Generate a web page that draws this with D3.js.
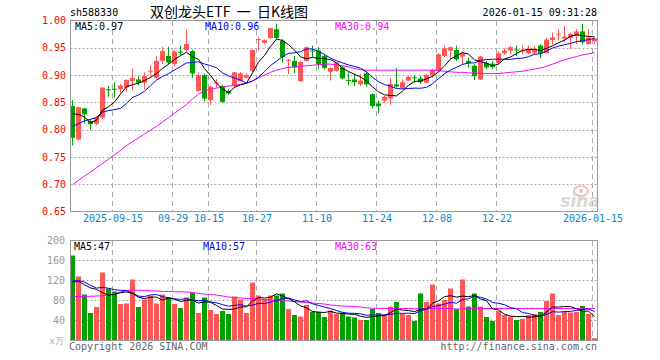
<!DOCTYPE html>
<html>
<head>
<meta charset="utf-8">
<script src="https://cdn.jsdelivr.net/npm/d3@7"></script>
<style>
body { margin: 0; background: #fff; }
text { font-family: "DejaVu Sans Mono", monospace; font-size: 10px; }
</style>
</head>
<body>
<svg width="660" height="360"></svg>
<script>
// trading days shown on the chart
var dates = [
  '2025-09-04','2025-09-05','2025-09-08','2025-09-09','2025-09-10','2025-09-11','2025-09-12','2025-09-15','2025-09-16','2025-09-17',
  '2025-09-18','2025-09-19','2025-09-22','2025-09-23','2025-09-24','2025-09-25','2025-09-26','2025-09-29','2025-09-30','2025-10-09',
  '2025-10-10','2025-10-13','2025-10-14','2025-10-15','2025-10-16','2025-10-17','2025-10-20','2025-10-21','2025-10-22','2025-10-23',
  '2025-10-24','2025-10-27','2025-10-28','2025-10-29','2025-10-30','2025-10-31','2025-11-03','2025-11-04','2025-11-05','2025-11-06',
  '2025-11-07','2025-11-10','2025-11-11','2025-11-12','2025-11-13','2025-11-14','2025-11-17','2025-11-18','2025-11-19','2025-11-20',
  '2025-11-21','2025-11-24','2025-11-25','2025-11-26','2025-11-27','2025-11-28','2025-12-01','2025-12-02','2025-12-03','2025-12-04',
  '2025-12-05','2025-12-08','2025-12-09','2025-12-10','2025-12-11','2025-12-12','2025-12-15','2025-12-16','2025-12-17','2025-12-18',
  '2025-12-19','2025-12-22','2025-12-23','2025-12-24','2025-12-25','2025-12-26','2025-12-29','2025-12-30','2025-12-31','2026-01-05',
  '2026-01-06','2026-01-07','2026-01-08','2026-01-09','2026-01-12','2026-01-13','2026-01-14','2026-01-15'
];

var open = [
  0.843,0.782,0.839,0.816,0.811,0.822,0.874,0.875,0.874,0.877,
  0.889,0.892,0.886,0.907,0.895,0.926,0.935,0.920,0.943,0.946,
  0.944,0.871,0.900,0.854,0.884,0.880,0.871,0.880,0.889,0.895,
  0.908,0.965,0.959,0.968,0.984,0.963,0.926,0.926,0.889,0.926,
  0.945,0.945,0.935,0.906,0.908,0.914,0.891,0.892,0.883,0.903,
  0.865,0.848,0.853,0.857,0.883,0.876,0.890,0.896,0.894,0.886,
  0.900,0.908,0.935,0.945,0.946,0.934,0.926,0.917,0.892,0.922,
  0.921,0.922,0.940,0.945,0.947,0.944,0.940,0.941,0.954,0.940,
  0.964,0.975,0.967,0.968,0.972,0.980,0.957,0.962
];
var high = [
  0.854,0.842,0.840,0.819,0.825,0.878,0.880,0.887,0.883,0.892,
  0.912,0.898,0.905,0.918,0.935,0.952,0.952,0.946,0.954,0.983,
  0.946,0.905,0.903,0.880,0.892,0.883,0.874,0.906,0.905,0.903,
  0.947,0.969,0.965,0.987,0.994,0.966,0.929,0.935,0.926,0.952,
  0.954,0.951,0.937,0.915,0.924,0.917,0.905,0.902,0.902,0.908,
  0.866,0.853,0.862,0.895,0.913,0.892,0.898,0.900,0.898,0.902,
  0.911,0.940,0.954,0.952,0.954,0.943,0.932,0.920,0.935,0.926,
  0.926,0.944,0.949,0.954,0.954,0.954,0.954,0.954,0.957,0.968,
  0.978,0.984,0.990,0.978,0.984,0.994,0.984,0.969
];
var low = [
  0.771,0.780,0.811,0.800,0.808,0.819,0.860,0.859,0.868,0.870,
  0.872,0.881,0.874,0.897,0.892,0.920,0.920,0.917,0.936,0.944,
  0.895,0.870,0.852,0.845,0.877,0.849,0.864,0.877,0.888,0.894,
  0.906,0.945,0.957,0.966,0.966,0.923,0.902,0.903,0.888,0.925,
  0.933,0.911,0.911,0.890,0.906,0.892,0.881,0.880,0.880,0.879,
  0.839,0.830,0.849,0.845,0.877,0.875,0.889,0.886,0.884,0.885,
  0.895,0.906,0.933,0.928,0.926,0.920,0.914,0.891,0.891,0.911,
  0.911,0.920,0.937,0.938,0.935,0.938,0.938,0.937,0.931,0.940,
  0.956,0.963,0.960,0.948,0.957,0.956,0.956,0.957
];
var close = [
  0.785,0.841,0.828,0.810,0.822,0.877,0.872,0.873,0.881,0.891,
  0.895,0.886,0.898,0.908,0.926,0.944,0.923,0.943,0.942,0.957,
  0.903,0.900,0.857,0.879,0.886,0.851,0.866,0.905,0.903,0.900,
  0.946,0.966,0.964,0.986,0.968,0.933,0.928,0.914,0.924,0.951,
  0.944,0.920,0.913,0.913,0.923,0.894,0.890,0.887,0.890,0.883,
  0.843,0.843,0.860,0.884,0.879,0.887,0.897,0.895,0.887,0.900,
  0.909,0.938,0.949,0.951,0.929,0.940,0.922,0.898,0.934,0.914,
  0.915,0.940,0.945,0.951,0.946,0.945,0.948,0.946,0.940,0.965,
  0.969,0.976,0.970,0.975,0.980,0.960,0.969,0.967
];
// closes of the 9 days before the window (for MA5 / MA10)
var preCloses = [0.791,0.778,0.780,0.790,0.776,0.846,0.853,0.860,0.801];

// MA30 of price
var ma30 = [
  0.699,0.707,0.715,0.722,0.730,0.738,0.746,0.754,0.762,0.771,
  0.778,0.785,0.792,0.799,0.806,0.814,0.822,0.830,0.838,0.846,
  0.856,0.865,0.871,0.874,0.876,0.878,0.880,0.881,0.883,0.885,
  0.889,0.895,0.900,0.905,0.909,0.912,0.914,0.915,0.916,0.917,
  0.918,0.919,0.920,0.920,0.919,0.917,0.915,0.912,0.910,0.909,
  0.909,0.909,0.909,0.909,0.909,0.909,0.909,0.909,0.909,0.909,
  0.909,0.908,0.907,0.906,0.905,0.905,0.904,0.904,0.903,0.903,
  0.903,0.903,0.904,0.905,0.906,0.907,0.909,0.911,0.913,0.916,
  0.920,0.924,0.928,0.931,0.934,0.937,0.939,0.941
];

// volume in 万
var volume = [
  169,127,91,54,66,135,103,97,72,73,
  121,66,81,88,73,91,85,72,64,85,
  94,54,85,60,52,58,52,87,81,54,
  115,89,80,89,89,93,62,50,47,70,
  56,56,46,59,52,54,47,45,40,40,
  62,54,50,67,76,52,50,38,93,76,
  111,73,80,103,62,121,67,93,67,46,
  38,58,50,47,40,42,50,52,56,78,
  93,50,58,55,56,68,52,3.5
];
var preVols = [115,125,118,122,121,120,125,85,80];
var volMa30 = [
  87,87,87,87.5,88,88.5,90,93,96,99,
  100,99.5,99,98.5,98,97,97,96.5,96.5,96,
  95,93,92,91,90,88,86,85,84,83,
  82.5,82,81,80,79,78.5,78,77,76,75,
  74,73,72,70,69,68,67.5,67,66,64.5,
  63.5,63,63,63,63,63,63,62.5,62.5,62.5,
  63,63,63,63,62,62,63,63,63,63,
  63,63,63,63,63,63,63,63,63,63,
  63,63,63,63,63,63,63,63
];

var tickDates = ['2025-09-15','2025-09-29','2025-10-15','2025-10-27','2025-11-10','2025-11-24','2025-12-08','2025-12-22','2026-01-15'];
var tickText = ['2025-09-15','09-29','10-15','10-27','11-10','11-24','12-08','12-22','2026-01-15'];
var priceTicks = [0.65,0.70,0.75,0.80,0.85,0.90,0.95,1.00];
var volTicks = [40,80,120,160,200];

var RED = '#ff5656', GREEN = '#00a000';

var svg = d3.select('svg');

var x = d3.scalePoint().domain(dates).range([72.5, 594.5]);
var y = d3.scaleLinear().domain([0.65, 1.00]).range([211.5, 20.5]);
var yV = d3.scaleLinear().domain([0, 200]).range([340, 240]);

// moving average from a series with its earlier values in front
function movingAvg(prev, vals, n) {
  var all = prev.concat(vals);
  return vals.map(function(v, i) {
    var k = i + prev.length;
    return d3.mean(all.slice(k - n + 1, k + 1));
  });
}
var ma5 = movingAvg(preCloses, close, 5);
var ma10 = movingAvg(preCloses, close, 10);
var volMa5 = movingAvg(preVols, volume, 5);
var volMa10 = movingAvg(preVols, volume, 10);

var idx = d3.range(dates.length);
function isUp(i) { return close[i] >= open[i]; }

// header
svg.append('text').attr('x', 70).attr('y', 16).text('sh588330');
svg.append('text').attr('x', 150).attr('y', 17)
  .style('font-family', '"Noto Sans CJK SC", sans-serif').style('font-size', '14px')
  .style('white-space', 'pre')
  .text('双创龙头ETF  一  日K线图');
svg.append('text').attr('x', 597).attr('y', 16).attr('text-anchor', 'end').text('2026-01-15 09:31:28');

// grids
function grid(g, yScale, vals, top, bottom) {
  g.selectAll('.hg').data(vals).enter().append('line')
    .attr('x1', 70.5).attr('x2', 597.5)
    .attr('y1', function(d) { return Math.round(yScale(d)) + 0.5; })
    .attr('y2', function(d) { return Math.round(yScale(d)) + 0.5; })
    .attr('stroke', '#aaa').attr('stroke-dasharray', '2,2');
  g.selectAll('.vg').data(tickDates).enter().append('line')
    .attr('x1', function(d) { return x(d) - 2; })
    .attr('x2', function(d) { return x(d) - 2; })
    .attr('y1', top).attr('y2', bottom)
    .attr('stroke', '#aaa').attr('stroke-dasharray', '5,4');
}
var gridMain = svg.append('g');
grid(gridMain, y, [0.70,0.75,0.80,0.85,0.90,0.95], 21, 211);
var gridVol = svg.append('g');
grid(gridVol, yV, [40,80,120,160], 241, 340);

// sina watermark
var wm = svg.append('g').attr('opacity', 0.9);
wm.append('ellipse').attr('cx', 581).attr('cy', 191).attr('rx', 7).attr('ry', 5)
  .attr('fill', 'none').attr('stroke', '#f3b5b5').attr('stroke-width', 2);
wm.append('circle').attr('cx', 581).attr('cy', 191).attr('r', 2).attr('fill', '#f3b5b5');
wm.append('text').attr('x', 580).attr('y', 207).attr('text-anchor', 'middle')
  .style('font-family', '"DejaVu Sans", sans-serif').style('font-size', '17px')
  .style('font-style', 'italic').style('font-weight', 'bold')
  .attr('fill', '#d4d4d4').text('sina');

// candles
var candles = svg.append('g');
candles.selectAll('.wick').data(idx).enter().append('line')
  .attr('x1', function(i) { return x(dates[i]); })
  .attr('x2', function(i) { return x(dates[i]); })
  .attr('y1', function(i) { return y(high[i]); })
  .attr('y2', function(i) { return y(low[i]); })
  .attr('stroke', function(i) { return isUp(i) ? RED : GREEN; });
candles.selectAll('.body').data(idx).enter().append('rect')
  .attr('x', function(i) { return x(dates[i]) - 2.5; })
  .attr('width', 5)
  .attr('y', function(i) { return y(Math.max(open[i], close[i])); })
  .attr('height', function(i) { return Math.max(1, Math.abs(y(open[i]) - y(close[i]))); })
  .attr('fill', function(i) { return isUp(i) ? RED : GREEN; });

// moving average lines
function maLine(yScale, vals) {
  return d3.line()
    .x(function(d, i) { return x(dates[i]); })
    .y(function(d) { return yScale(d); })(vals);
}
svg.append('path').attr('d', maLine(y, ma30)).attr('fill', 'none').attr('stroke', '#ff00ff');
svg.append('path').attr('d', maLine(y, ma10)).attr('fill', 'none').attr('stroke', '#0000ff');
svg.append('path').attr('d', maLine(y, ma5)).attr('fill', 'none').attr('stroke', '#000');

// volume bars
svg.append('g').selectAll('rect').data(idx).enter().append('rect')
  .attr('x', function(i) { return x(dates[i]) - 2.5; })
  .attr('width', 5)
  .attr('y', function(i) { return yV(volume[i]); })
  .attr('height', function(i) { return 340 - yV(volume[i]); })
  .attr('fill', function(i) { return isUp(i) ? RED : GREEN; });
svg.append('path').attr('d', maLine(yV, volMa30)).attr('fill', 'none').attr('stroke', '#ff00ff');
svg.append('path').attr('d', maLine(yV, volMa10)).attr('fill', 'none').attr('stroke', '#0000ff');
svg.append('path').attr('d', maLine(yV, volMa5)).attr('fill', 'none').attr('stroke', '#000');

// frames
svg.append('rect').attr('x', 70.5).attr('y', 20.5).attr('width', 527).attr('height', 191)
  .attr('fill', 'none').attr('stroke', '#999');
svg.append('rect').attr('x', 70.5).attr('y', 240.5).attr('width', 527).attr('height', 100)
  .attr('fill', 'none').attr('stroke', '#999');

// axes
var yAxis = svg.append('g').attr('transform', 'translate(70,0)')
  .call(d3.axisLeft(y).tickValues(priceTicks).tickSize(0).tickPadding(4).tickFormat(d3.format('.2f')));
yAxis.select('.domain').remove();
yAxis.selectAll('text').attr('fill', '#ff0000').style('font-family', '"DejaVu Sans Mono", monospace').style('font-size', '10px');

var vAxis = svg.append('g').attr('transform', 'translate(70,0)')
  .call(d3.axisLeft(yV).tickValues(volTicks).tickSize(0).tickPadding(5));
vAxis.select('.domain').remove();
vAxis.selectAll('text').attr('fill', '#999').style('font-family', '"DejaVu Sans Mono", monospace').style('font-size', '10px');
svg.append('text').attr('x', 64).attr('y', 344).attr('text-anchor', 'end').attr('fill', '#aaa')
  .style('font-size', '9px').text('x万');

var xAxis = svg.append('g').attr('transform', 'translate(-2,211)')
  .call(d3.axisBottom(x).tickValues(tickDates).tickSize(0).tickPadding(4)
    .tickFormat(function(d) { return tickText[tickDates.indexOf(d)]; }));
xAxis.select('.domain').remove();
xAxis.selectAll('text').attr('fill', '#0088cc').style('font-family', '"DejaVu Sans Mono", monospace').style('font-size', '10px');

// legends
svg.append('text').attr('x', 75).attr('y', 30).text('MA5:0.97');
svg.append('text').attr('x', 205).attr('y', 30).attr('fill', '#0000ff').text('MA10:0.96');
svg.append('text').attr('x', 335).attr('y', 30).attr('fill', '#ff00ff').text('MA30:0.94');
svg.append('text').attr('x', 74).attr('y', 250).text('MA5:47');
svg.append('text').attr('x', 203).attr('y', 250).attr('fill', '#0000ff').text('MA10:57');
svg.append('text').attr('x', 335).attr('y', 250).attr('fill', '#ff00ff').text('MA30:63');

// footer
svg.append('text').attr('x', 69).attr('y', 350).attr('fill', '#666').text('Copyright 2026 SINA.COM');
svg.append('text').attr('x', 597).attr('y', 350).attr('text-anchor', 'end').attr('fill', '#666').text('http://finance.sina.com.cn');
</script>
</body>
</html>
